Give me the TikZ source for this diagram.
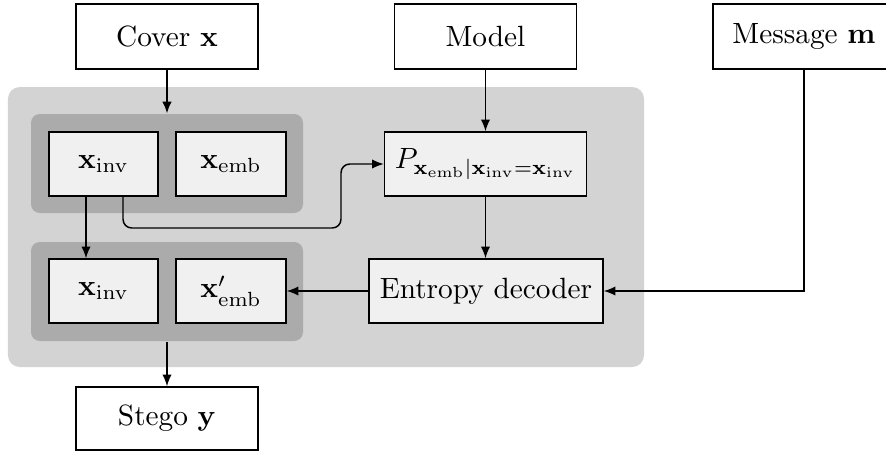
\documentclass[tikz,border=0pt]{standalone}
\usetikzlibrary{arrows.meta,calc}
\newdimen\px
\px=0.3413pt
\definecolor{bglight}{RGB}{211,211,211}
\definecolor{bgdark}{RGB}{171,171,171}
\definecolor{innerfill}{RGB}{240,240,240}
\begin{document}
\begin{tikzpicture}[x=0.3413pt,y=-0.3413pt,
  every node/.style={inner sep=0pt},
  outbox/.style={draw, line width=0.5pt, fill=white, minimum width={182*\px}, minimum height={65*\px}},
  inbox/.style={draw, line width=0.5pt, fill=innerfill, minimum height={64*\px}},
  grp/.style={fill=bgdark, rounded corners=3pt, minimum width={272*\px}, minimum height={99*\px}},
  conn/.style={line width=0.5pt, -{Latex[length=4pt,width=3.2pt]}},
  line/.style={line width=0.5pt}]
\useasboundingbox (0,0) rectangle (886,452);
\node[fill=bglight, rounded corners=4pt, minimum width={636*\px}, minimum height={280*\px}] (bg) at (326,227) {};
\node[grp] (g1) at (167,163.5) {};
\node[grp] (g2) at (167,291.5) {};
\node[outbox] (cover) at (167,36.5) {Cover $\mathbf{x}$};
\node[outbox] (model) at (485.5,36.5) {Model};
\node[outbox] (msg) at (804,36.5) {Message $\mathbf{m}$};
\node[inbox, minimum width={109*\px}] (xinv1) at (103.5,164) {$\mathbf{x}_{\mathrm{inv}}$};
\node[inbox, minimum width={110*\px}] (xemb1) at (231,164) {$\mathbf{x}_{\mathrm{emb}}$};
\node[inbox, minimum width={202*\px}] (P) at (485.5,164) {$P_{\mathbf{x}_{\mathrm{emb}}|\mathbf{x}_{\mathrm{inv}}=\mathbf{x}_{\mathrm{inv}}}$};
\node[inbox, minimum width={234*\px}] (dec) at (486,291) {Entropy decoder};
\node[inbox, minimum width={109*\px}] (xinv2) at (103.5,291) {$\mathbf{x}_{\mathrm{inv}}$};
\node[inbox, minimum width={110*\px}] (xemb2) at (231,291) {$\mathbf{x}'_{\mathrm{emb}}$};
\node[outbox, minimum height={63*\px}] (stego) at (167,418.5) {Stego $\mathbf{y}$};
\draw[conn] (cover.south) -- (g1.north);
\draw[conn] (model.south) -- (P.north);
\draw[conn] (P.south) -- (P.south |- dec.north);
\draw[conn] (msg.south) |- (dec.east);
\draw[conn] (dec.west) -- (xemb2.east);
\draw[conn] (g2.south) -- (stego.north);
\draw[conn] ($(xinv1.south)+(-17.5,0)$) -- ($(xinv2.north)+(-17.5,0)$);
\coordinate (c1) at (341,228);
\draw[conn, rounded corners=3pt] ($(xinv1.south)+(19.5,0)$) |- (c1) |- (P.west);
\end{tikzpicture}
\end{document}
